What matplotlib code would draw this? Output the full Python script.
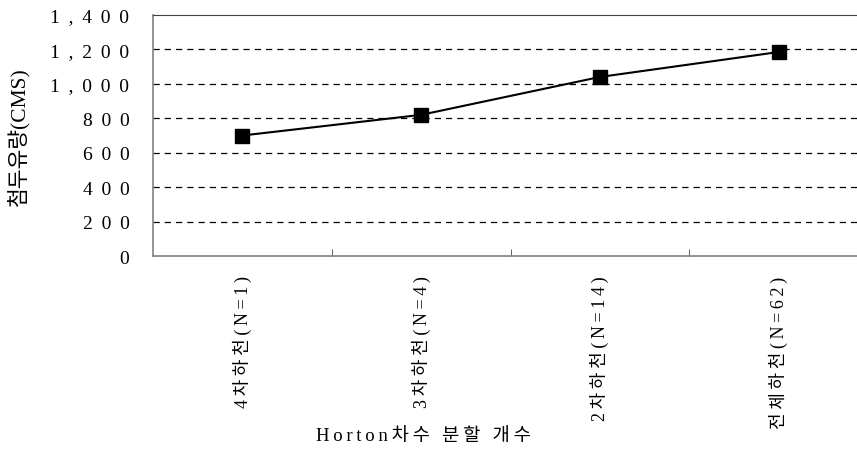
import matplotlib.pyplot as plt

plt.rcParams['font.family'] = ['Liberation Serif', 'Noto Sans CJK KR', 'DejaVu Sans']

categories = ['4차하천(N=1)', '3차하천(N=4)', '2차하천(N=14)', '전체하천(N=62)']
peak_flow = [700, 820, 1040, 1185]
y_ticks = [0, 200, 400, 600, 800, 1000, 1200, 1400]


def spaced(s, sep='\u2009'):
    # the source chart uses wide letter spacing
    return sep.join(s)


fig = plt.figure(figsize=(8.57, 4.52), dpi=100)
ax = fig.add_axes([153 / 857, 1 - 257 / 452, 715 / 857, 241 / 452])

x = list(range(len(categories)))
ax.plot(x, peak_flow, color='black', linewidth=1.5, marker='s',
        markersize=10, markerfacecolor='black', markeredgecolor='black')

ax.set_xlim(-0.5, 3.5)
ax.set_ylim(0, 1400)

# dashed gridlines (1400 is the top frame)
for v in y_ticks[1:-1]:
    ax.axhline(v, color='black', linestyle=(0, (5, 4)), linewidth=0.9, zorder=0)

ax.set_yticks(y_ticks)
ax.set_yticklabels([spaced(f'{v:,}', ' \u2009') for v in y_ticks], fontsize=14)
ax.tick_params(axis='y', length=0, pad=17)

ax.set_xticks(x)
ax.set_xticklabels([spaced(c) for c in categories], rotation=90, fontsize=13, va='top')
ax.tick_params(axis='x', which='major', length=0, pad=14)
ax.set_xticks([0.5, 1.5, 2.5], minor=True)
ax.tick_params(axis='x', which='minor', direction='in', length=5, color='#444444')

for side in ['left', 'bottom']:
    ax.spines[side].set_color('#808080')
    ax.spines[side].set_linewidth(1.2)
ax.spines['top'].set_color('#404040')
ax.spines['right'].set_visible(False)

ax.set_ylabel('첨두유량(CMS)', fontsize=15.5)
ax.yaxis.set_label_coords(-124 / 715, 0.5)
fig.text(423 / 857, 1 - 437 / 452, spaced('Horton차수 분할 개수'), ha='center', va='center',
         fontsize=13.5)

fig.savefig('out.png', dpi=100)
